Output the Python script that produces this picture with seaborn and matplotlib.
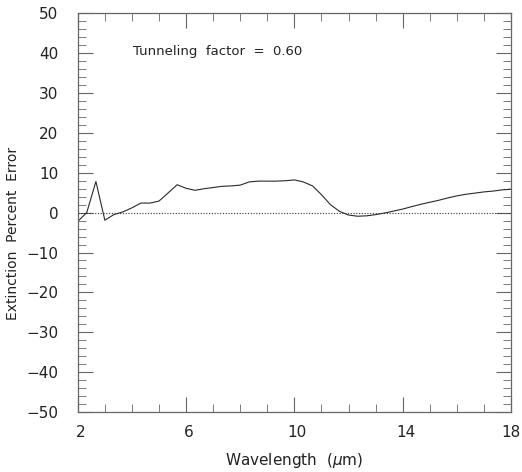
import numpy as np
import pandas as pd
import matplotlib
matplotlib.use("Agg")
import matplotlib.pyplot as plt
import matplotlib.transforms as mtransforms
import seaborn as sns

# wavelength grid (microns) and percent error
wavelength = [2.0, 2.33, 2.67, 3.0, 3.33, 3.67, 4.0, 4.33, 4.67, 5.0,
              5.33, 5.67, 6.0, 6.33, 6.67, 7.0, 7.33, 7.67, 8.0, 8.33,
              8.67, 9.0, 9.33, 9.67, 10.0, 10.33, 10.67, 11.0, 11.33, 11.67,
              12.0, 12.33, 12.67, 13.0, 13.33, 13.67, 14.0, 14.33, 14.67, 15.0,
              15.33, 15.67, 16.0, 16.33, 16.67, 17.0, 17.33, 17.67, 18.0]
pct_error = [-2.2, 0.0, 7.8, -1.9, -0.5, 0.2, 1.2, 2.4, 2.4, 2.9,
             4.9, 7.0, 6.1, 5.6, 6.0, 6.3, 6.6, 6.7, 6.9, 7.7,
             7.9, 7.9, 7.9, 8.0, 8.2, 7.7, 6.7, 4.5, 2.0, 0.3,
             -0.6, -0.9, -0.8, -0.5, -0.1, 0.4, 0.9, 1.5, 2.1, 2.6,
             3.1, 3.7, 4.2, 4.6, 4.9, 5.2, 5.4, 5.7, 5.9]

x_major = [2, 6, 10, 14, 18]
y_major = list(range(-50, 51, 10))

df = pd.DataFrame({"wavelength": wavelength, "error": pct_error})

sns.set_style("ticks")
plt.rcParams["font.family"] = ["DejaVu Sans"]

fig = plt.figure(figsize=(5.22, 4.72), dpi=100)
ax = fig.add_axes([0.149, 0.127, 0.83, 0.845])

sns.lineplot(data=df, x="wavelength", y="error", ax=ax,
             color="#2a2a2a", linewidth=0.8)
ax.axhline(0, color="#333333", linewidth=0.8, linestyle=(0, (1, 1.5)))

ax.set_xlim(2, 18)
ax.set_ylim(-50, 50)
ax.set_xticks(x_major)
ax.set_xticks(np.arange(2, 18.5, 1), minor=True)
ax.set_yticks(y_major)
ax.set_yticks(np.arange(-50, 51, 2), minor=True)

gray = "#666666"
for s in ax.spines.values():
    s.set_color(gray)
    s.set_linewidth(0.9)
ax.tick_params(which="both", direction="in", top=True, right=True,
               colors=gray, labelcolor="#222222", labelsize=11)
ax.tick_params(which="major", length=11, pad=9)
ax.tick_params(which="minor", length=6)
ax.tick_params(axis="y", pad=14)

# x tick labels sit a little right of their ticks in the original
shift = mtransforms.ScaledTranslation(3 / 100, 0, fig.dpi_scale_trans)
for lab in ax.get_xticklabels()[:-1]:
    lab.set_transform(lab.get_transform() + shift)

ax.set_xlabel(r"Wavelength  ($\mu$m)", fontsize=11, color="#222222", labelpad=8)
ax.set_ylabel("Extinction  Percent  Error", fontsize=10, color="#222222")
ax.yaxis.set_label_coords(-0.134, 0.449)

ax.text(4.05, 40.5, "Tunneling  factor  =  0.60", fontsize=9.5,
        color="#222222", va="center")

fig.savefig("out.png", dpi=100)
